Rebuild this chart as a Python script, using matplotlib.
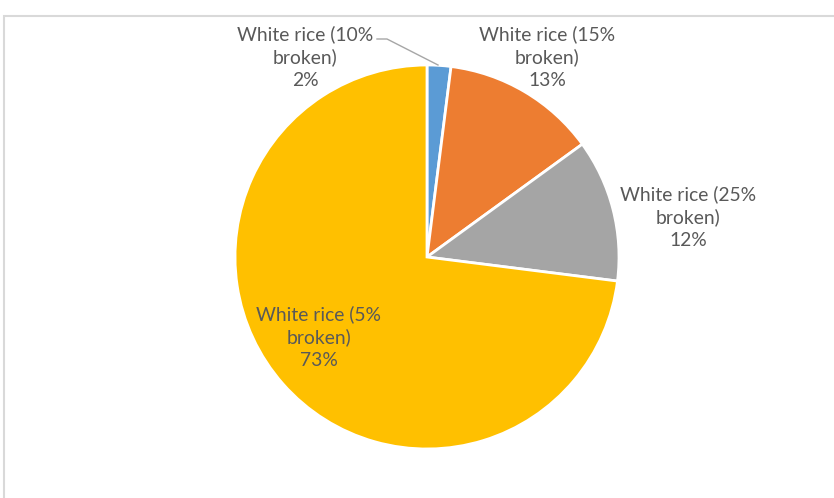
import matplotlib
matplotlib.use("Agg")
import matplotlib.pyplot as plt
from matplotlib.patches import Rectangle

W, H = 834, 498

labels = ["White rice (10%\nbroken)", "White rice (15%\nbroken)",
          "White rice (25%\nbroken)", "White rice (5%\nbroken)"]
shares = [2, 13, 12, 73]
colors = ["#5B9BD5", "#ED7D31", "#A5A5A5", "#FFC000"]

# label centres in pixel coords (x, y from top)
label_pos = [(305, 57), (547, 57), (688, 217), (319, 337)]

plt.rcParams['font.family'] = ['Lato', 'DejaVu Sans']

fig = plt.figure(figsize=(W / 100, H / 100), dpi=100)
ax = fig.add_axes([0, 0, 1, 1])

# chart border
ax.add_patch(Rectangle((4.5, -5), W, H - 10.5, fill=False, edgecolor="#D9D9D9", linewidth=1.5))

cx, cy, r = 427, H - 257, 192
ax.pie(shares, colors=colors, startangle=90, counterclock=False,
       center=(cx, cy), radius=r, frame=True,
       wedgeprops=dict(edgecolor="white", linewidth=2))
ax.set_xlim(0, W)
ax.set_ylim(0, H)
ax.set_aspect('equal')
ax.axis('off')

for lab, v, (x, y) in zip(labels, shares, label_pos):
    ax.text(x, H - y, f"{lab}\n{v}%", ha="center", va="center",
            fontsize=13.9, color="#595959", linespacing=1.4)

# leader line for the small slice
ax.plot([377, 387, 438], [H - 39, H - 39, H - 65], color="#A6A6A6", linewidth=1)

fig.savefig("out.png", dpi=100)
